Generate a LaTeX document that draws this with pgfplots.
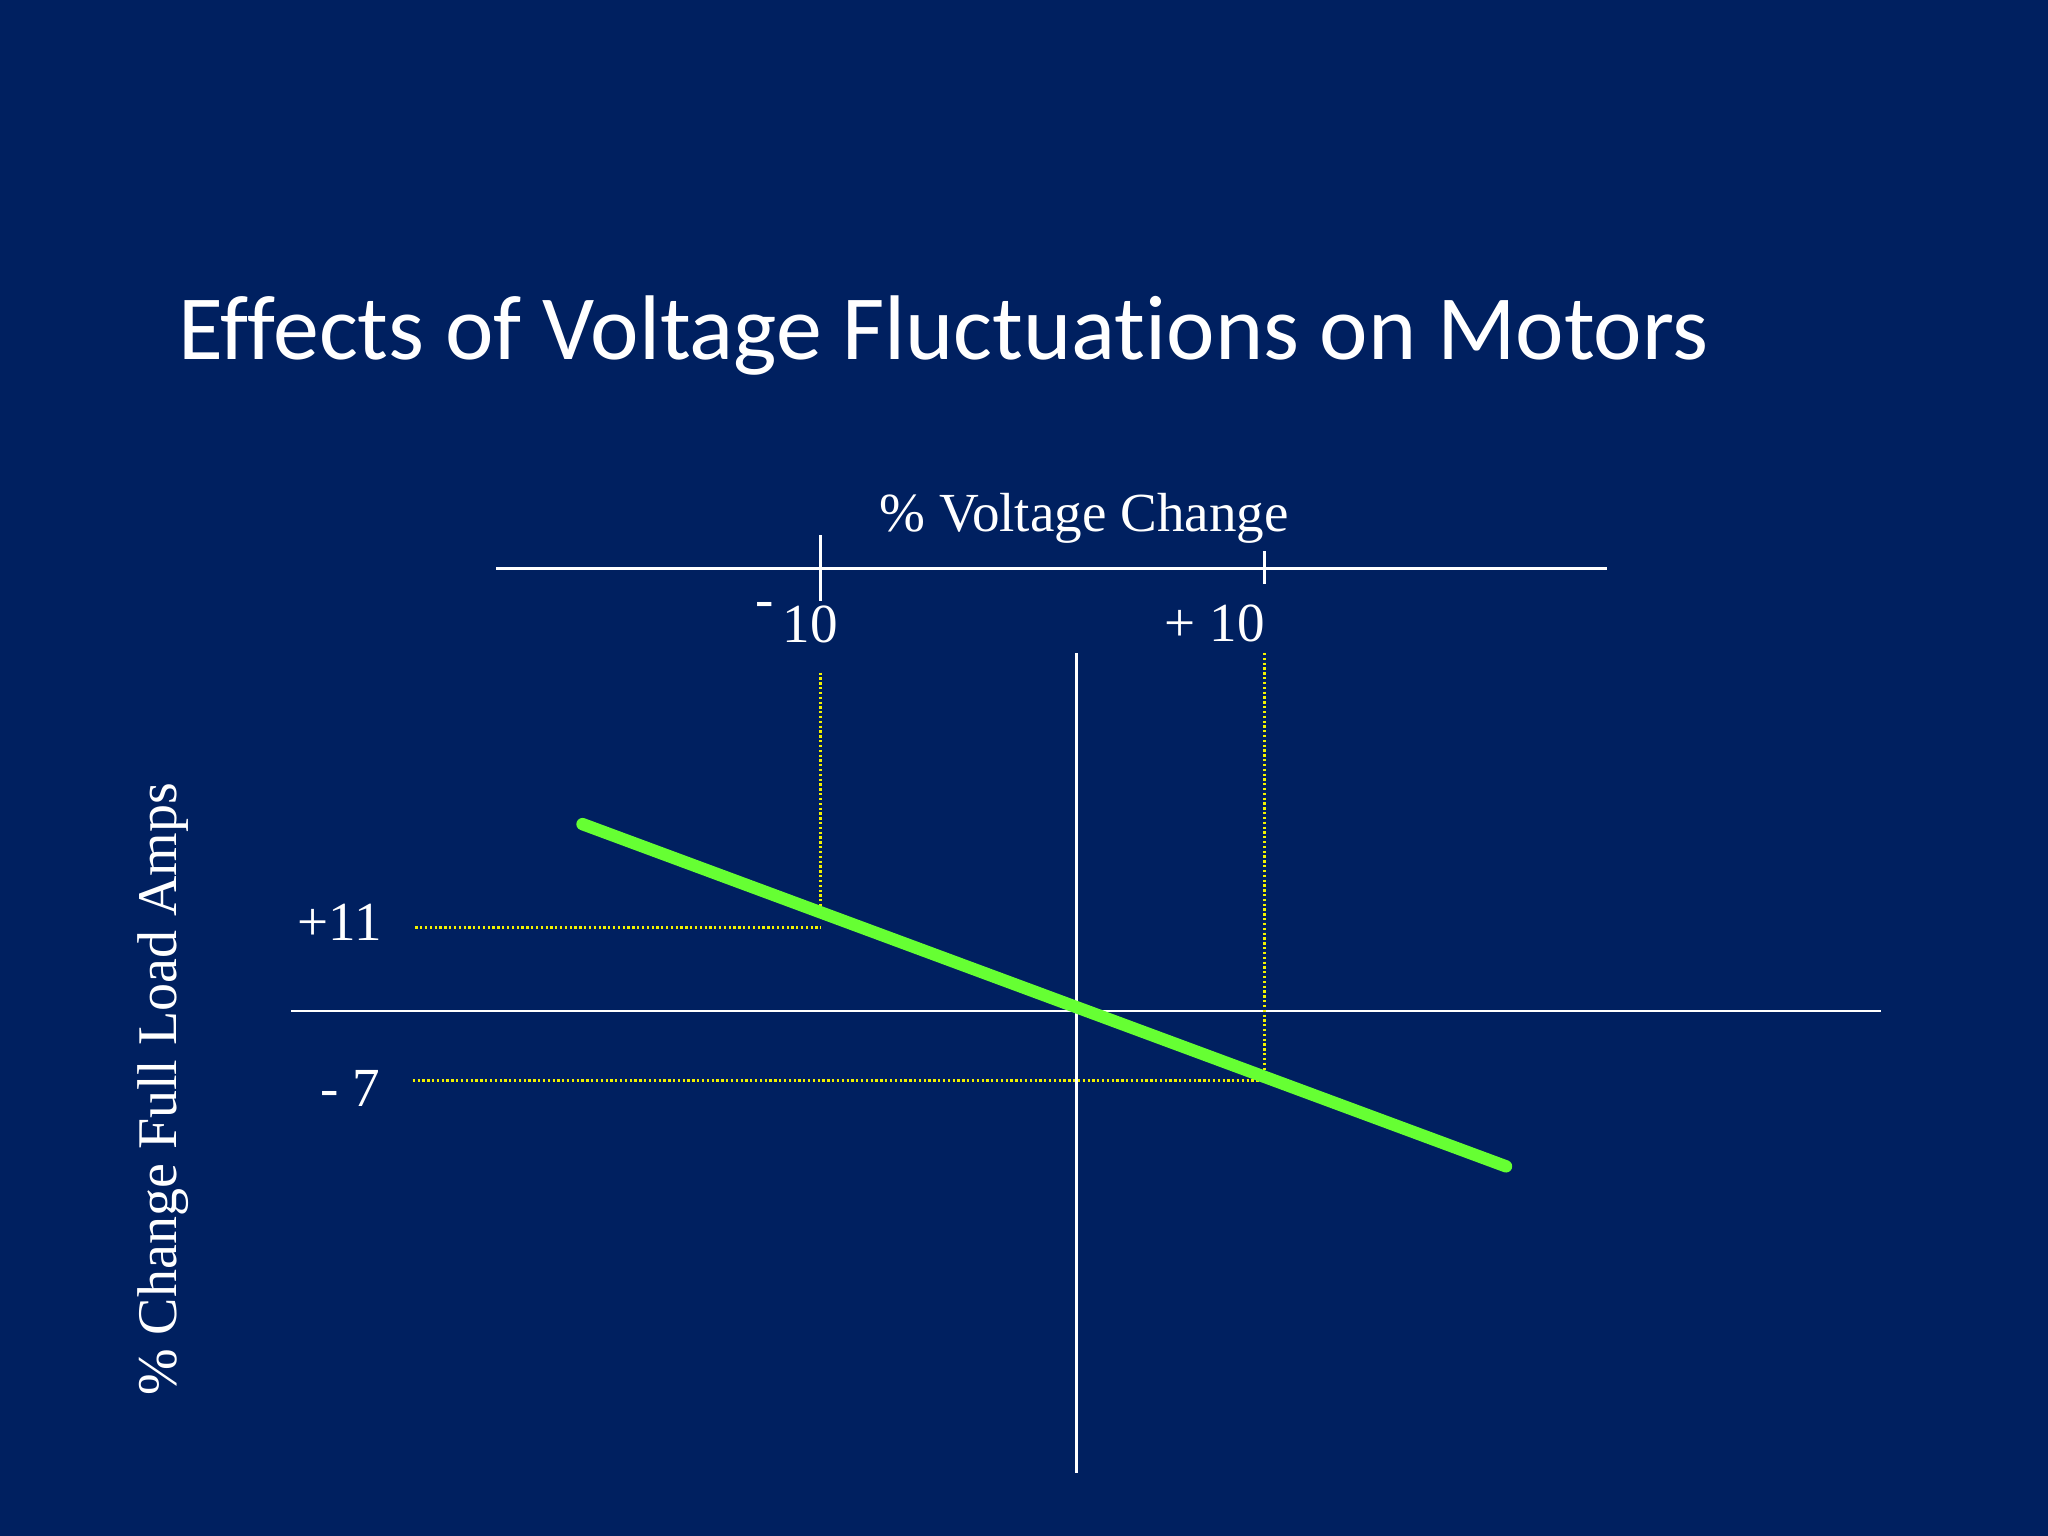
\documentclass[border=0pt]{standalone}
\usepackage{pgfplots}
\pgfplotsset{compat=1.18}
\usepackage{fontspec}
\setmainfont{Liberation Serif}
\newfontfamily\titlefont[Ligatures=NoCommon]{Carlito}
\definecolor{bgblue}{HTML}{002060}
\definecolor{lgreen}{HTML}{66FF33}
\definecolor{dyellow}{HTML}{F2F200}
\begin{document}
\begin{tikzpicture}
\fill[bgblue] (0,0) rectangle (15.68cm,11.76cm);
\begin{axis}[
  at={(0,0)}, anchor=south west,
  scale only axis, width=15.68cm, height=11.76cm,
  xmin=-824, xmax=744, ymin=-402, ymax=774,
  hide axis, clip=false,
]
% axes drawn on the slide
\addplot[white, line width=0.6pt] coordinates {(-444,339) (406,339)};
\addplot[white, line width=0.6pt] coordinates {(-196,364) (-196,314)};
\addplot[white, line width=0.6pt] coordinates {(144,352) (144,327)};
\addplot[white, line width=0.6pt] coordinates {(0,274) (0,-354)};
\addplot[white, line width=0.6pt] coordinates {(-601,0) (616,0)};
% dotted guide lines
\addplot[dyellow, line width=0.65pt, dash pattern=on 0.5pt off 0.55pt] coordinates {(-196,259) (-196,74)};
\addplot[dyellow, line width=0.65pt, dash pattern=on 0.5pt off 0.55pt] coordinates {(-506,64) (-196,64)};
\addplot[dyellow, line width=0.65pt, dash pattern=on 0.5pt off 0.55pt] coordinates {(144,274) (144,-52)};
\addplot[dyellow, line width=0.65pt, dash pattern=on 0.5pt off 0.55pt] coordinates {(-508,-53) (144,-53)};
% response line
\addplot[lgreen, line width=2.7pt, line cap=round] coordinates {(-378,143) (329,-119)};
% texts
\node[white, font=\fontsize{12}{14}\selectfont] at (axis cs:6,377) {\% Voltage Change};
\node[white, font=\fontsize{12}{14}\selectfont] at (axis cs:-214,297) {\raisebox{0.45em}{-}\,10};
\node[white, font=\fontsize{12}{14}\selectfont] at (axis cs:106,297) {+ 10};
\node[white, font=\fontsize{12}{14}\selectfont] at (axis cs:-564,68) {+11};
\node[white, font=\fontsize{12}{14}\selectfont] at (axis cs:-556,-59) {- 7};
\node[white, rotate=90, font=\fontsize{12.2}{14}\selectfont] at (axis cs:-699,-60) {\% Change Full Load Amps};
\node[white, anchor=base west, inner sep=0pt, font=\titlefont\fontsize{20}{24}\selectfont] at (axis cs:-688,499) {Effects of Voltage Fluctuations on Motors};
\end{axis}
\end{tikzpicture}
\end{document}
